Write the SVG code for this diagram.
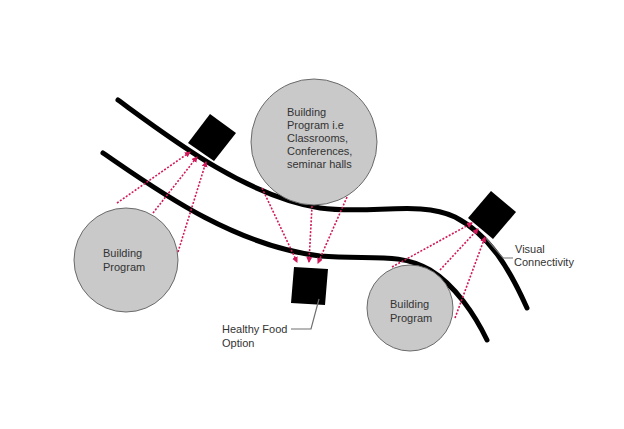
<svg xmlns="http://www.w3.org/2000/svg" width="624" height="429" viewBox="0 0 624 429">
<defs>
<style>
.road{fill:none;stroke:#000;stroke-width:5;stroke-linecap:round}
.circ{fill:#c9c9c9;stroke:#6a6a6a;stroke-width:1}
.box{fill:#000}
.view{fill:none;stroke:#d2185a;stroke-width:1.6;stroke-dasharray:2 1.6;marker-end:url(#ah)}
.lead{fill:none;stroke:#707070;stroke-width:1.2}
text{font-family:"Liberation Sans",Arial,sans-serif;font-size:11px;fill:#333}
</style>
<marker id="ah" markerUnits="userSpaceOnUse" markerWidth="7" markerHeight="7" refX="5" refY="3" orient="auto">
<path d="M0,0 L6,3 L0,6 z" fill="#d2185a"/>
</marker>
</defs>
<rect width="624" height="429" fill="#fff"/>
<g id="roads">
<path class="road" d="M118,100 C170,138 245,196 320,208 C370,215 420,200 455,217 C490,235 510,270 527,308"/>
<path class="road" d="M103,153 C150,185 230,245 320,256 C370,260 400,252 430,270 C455,285 475,315 487,340"/>
</g>
<g id="program-top">
<circle class="circ" cx="314" cy="142" r="63"/>
<text x="287" y="116">Building</text>
<text x="287" y="129">Program i.e</text>
<text x="287" y="142">Classrooms,</text>
<text x="287" y="155">Conferences,</text>
<text x="287" y="168">seminar halls</text>
</g>
<g id="program-left">
<circle class="circ" cx="126" cy="260" r="52"/>
<text x="103" y="257">Building</text>
<text x="103" y="271">Program</text>
</g>
<g id="program-right">
<circle class="circ" cx="410" cy="308" r="43"/>
<text x="390" y="308">Building</text>
<text x="390" y="322">Program</text>
</g>
<g id="box-top">
<polygon class="box" points="210,114 236,133 214,161 188,143"/>
</g>
<g id="box-food">
<polygon class="box" points="294,267 328,269 325,305 291,303"/>
</g>
<g id="box-visual">
<polygon class="box" points="491,191 516,212 493,239 468,218"/>
</g>
<g id="label-food">
<polyline class="lead" points="291,329 311,329 319,299"/>
<text x="222" y="333">Healthy Food</text>
<text x="222" y="347">Option</text>
</g>
<g id="label-visual">
<polyline class="lead" points="486,238 503,258 513,258"/>
<text x="515" y="253">Visual</text>
<text x="514" y="266">Connectivity</text>
</g>
<g id="connectors">
<line class="view" x1="117" y1="203" x2="190" y2="152"/>
<line class="view" x1="153" y1="213" x2="197" y2="157"/>
<line class="view" x1="178" y1="252" x2="206" y2="162"/>
<line class="view" x1="262" y1="188" x2="297" y2="262"/>
<line class="view" x1="312" y1="206" x2="309" y2="262"/>
<line class="view" x1="347" y1="197" x2="318" y2="263"/>
<line class="view" x1="392" y1="267" x2="472" y2="223"/>
<line class="view" x1="440" y1="270" x2="478" y2="229"/>
<line class="view" x1="455" y1="318" x2="485" y2="237"/>
</g>
</svg>
